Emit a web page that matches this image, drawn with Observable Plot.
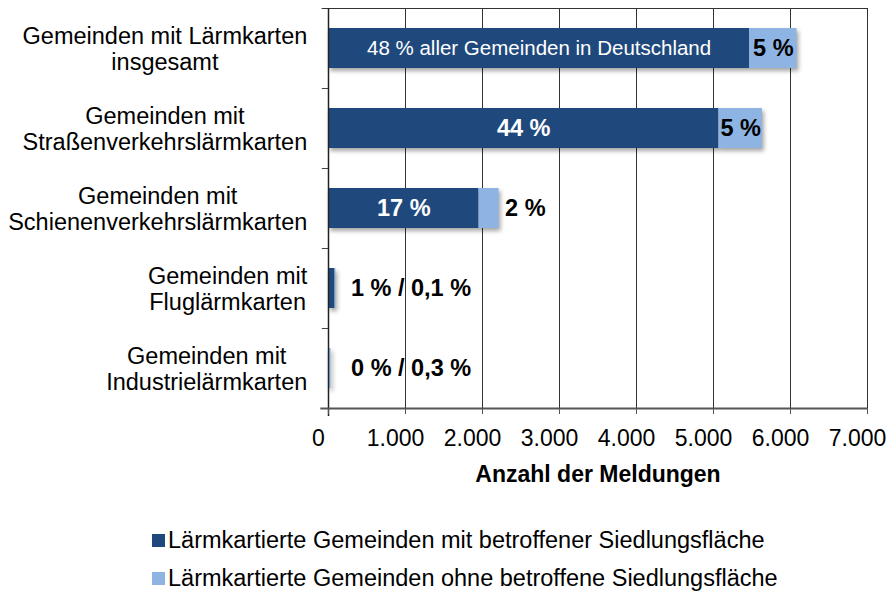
<!DOCTYPE html>
<html>
<head>
<meta charset="utf-8">
<script src="https://cdn.jsdelivr.net/npm/d3@7"></script>
<script src="https://cdn.jsdelivr.net/npm/@observablehq/plot@0.6"></script>
<style>
  body { margin: 0; background: #fff; font-family: "Liberation Sans", Arial, sans-serif; }
  #chart { position: relative; width: 888px; height: 597px; }
  #chart svg { display: block; }
  g[aria-label="bar"] { filter: drop-shadow(2px 3px 2px rgba(0,0,0,0.35)); }
  g[aria-label="x-axis label"] text { font-weight: bold; }
  .legend { position: absolute; left: 152px; top: 521px; font-size: 23.5px; color: #000; }
  .legend .row { display: flex; align-items: center; height: 38px; }
  .legend .sw { width: 13px; height: 13px; margin-right: 3px; flex: none; }
</style>
</head>
<body>
<div id="chart"></div>
<script>
// ---- data ----
const categories = [
  "Gemeinden mit Lärmkarten insgesamt",
  "Gemeinden mit Straßenverkehrslärmkarten",
  "Gemeinden mit Schienenverkehrslärmkarten",
  "Gemeinden mit Fluglärmkarten",
  "Gemeinden mit Industrielärmkarten"
];
const categoryLines = [
  ["Gemeinden mit Lärmkarten", "insgesamt"],
  ["Gemeinden mit", "Straßenverkehrslärmkarten"],
  ["Gemeinden mit", "Schienenverkehrslärmkarten"],
  ["Gemeinden mit", "Fluglärmkarten"],
  ["Gemeinden mit", "Industrielärmkarten"]
];
const seriesNames = [
  "Lärmkartierte Gemeinden mit betroffener Siedlungsfläche",
  "Lärmkartierte Gemeinden ohne betroffene Siedlungsfläche"
];
const withArea = [5470, 5070, 1955, 85, 0];
const withoutArea = [615, 565, 260, 11, 33];
const labelsWith = ["48 % aller Gemeinden in Deutschland", "44 %", "17 %", "", ""];
const labelsWithout = ["5 %", "5 %", "2 %", "1 % / 0,1 %", "0 % / 0,3 %"];
const labelInside = [true, true, false, false, false];
const xTicks = [0, 1000, 2000, 3000, 4000, 5000, 6000, 7000];
const xLabel = "Anzahl der Meldungen";
const colors = ["#1F497D", "#8DB4E2"];

// ---- derived tables ----
const rows = [];
categories.forEach((c, i) => rows.push({cat: c, series: seriesNames[0], value: withArea[i]}));
categories.forEach((c, i) => rows.push({cat: c, series: seriesNames[1], value: withoutArea[i]}));

const darkLabels = categories.map((c, i) => ({cat: c, x: withArea[i] / 2, text: labelsWith[i], i}))
  .filter(d => d.text !== "");
const lightInside = categories.map((c, i) => ({cat: c, x: withArea[i] + withoutArea[i] / 2, text: labelsWithout[i], i}))
  .filter(d => labelInside[d.i]);
const lightOutside = categories.map((c, i) => ({cat: c, x: withArea[i] + withoutArea[i], text: labelsWithout[i], i}))
  .filter(d => !labelInside[d.i]);

const W = 888, H = 490, mT = 8, mB = 82, mL = 328, mR = 21;
const step = (H - mT - mB) / categories.length;
const fmt = d => d3.format(",")(d).replace(/,/g, ".");
const font = "Liberation Sans, Arial, sans-serif";

const svg = Plot.plot({
  width: W, height: H,
  marginTop: mT, marginBottom: mB, marginLeft: mL, marginRight: mR,
  style: {fontFamily: font, fontSize: "23px", background: "white", overflow: "visible", color: "#000"},
  x: {domain: [0, 7000]},
  y: {domain: categories, padding: 0},
  color: {domain: seriesNames, range: colors},
  marks: [
    Plot.ruleX(xTicks.slice(1), {stroke: "#333", strokeWidth: 1}),
    Plot.barX(rows, {x: "value", y: "cat", fill: "series", insetTop: 20, insetBottom: 20}),
    // dark-segment labels
    Plot.text(darkLabels.filter(d => d.i === 0), {x: "x", y: "cat", text: "text", fill: "white", fontSize: 20.5, fontFamily: font}),
    Plot.text(darkLabels.filter(d => d.i !== 0), {x: "x", y: "cat", text: "text", fill: "white", fontSize: 23.5, fontWeight: "bold", fontFamily: font}),
    // light-segment labels
    Plot.text(lightInside, {x: "x", y: "cat", text: "text", fill: "black", fontSize: 23.5, fontWeight: "bold", fontFamily: font}),
    Plot.text(lightOutside.filter(d => d.i === 2), {x: "x", y: "cat", text: "text", fill: "black", fontSize: 23.5, fontWeight: "bold", textAnchor: "start", dx: 6, fontFamily: font}),
    Plot.text(lightOutside.filter(d => d.i === 3), {x: "x", y: "cat", text: "text", fill: "black", fontSize: 23.5, fontWeight: "bold", textAnchor: "start", dx: 15, fontFamily: font}),
    Plot.text(lightOutside.filter(d => d.i === 4), {x: "x", y: "cat", text: "text", fill: "black", fontSize: 23.5, fontWeight: "bold", textAnchor: "start", dx: 20, fontFamily: font}),
    // frame lines
    Plot.ruleY(categories, {y: d => d, x1: -80, x2: 0, dy: -step / 2, stroke: "#444"}),
    Plot.ruleY([categories[0]], {y: d => d, x1: -80, x2: 7000, dy: -step / 2, stroke: "#333"}),
    Plot.ruleX([0], {stroke: "#222", strokeWidth: 1.5, insetBottom: -8}),
    Plot.ruleY([categories[categories.length - 1]], {y: d => d, x1: -100, x2: 7000, dy: step / 2, stroke: "#555", strokeWidth: 2}),
    // x axis: ticks + title, then shifted tick labels
    Plot.axisX({ticks: xTicks, tickFormat: () => "", tickSize: 6, stroke: "#555",
      fontSize: 23, label: xLabel, labelAnchor: "center", labelOffset: 73, labelArrow: "none"}),
    Plot.axisX({ticks: xTicks, tickFormat: fmt, tickSize: 0, tickPadding: 21, dx: -10,
      fontSize: 23, label: null}),
    Plot.axisY({tickSize: 0, tickPadding: 21, fontSize: 23.5, label: null, lineHeight: 1.1,
      tickFormat: d => categoryLines[categories.indexOf(d)].join("\n")})
  ]
});

const chart = document.getElementById("chart");
chart.append(svg);

// center each multi-line y label on its widest line, keeping right edge
svg.querySelectorAll('g[aria-label="y-axis tick label"] text').forEach(t => {
  const w = t.getBBox().width;
  t.setAttribute("text-anchor", "middle");
  t.setAttribute("transform", (t.getAttribute("transform") || "") + ` translate(${-w / 2},0)`);
});

// legend
const legend = document.createElement("div");
legend.className = "legend";
seriesNames.forEach((s, i) => {
  const row = document.createElement("div");
  row.className = "row";
  const sw = document.createElement("span");
  sw.className = "sw";
  sw.style.background = colors[i];
  const tx = document.createElement("span");
  tx.textContent = s;
  row.append(sw, tx);
  legend.append(row);
});
chart.append(legend);
</script>
</body>
</html>
